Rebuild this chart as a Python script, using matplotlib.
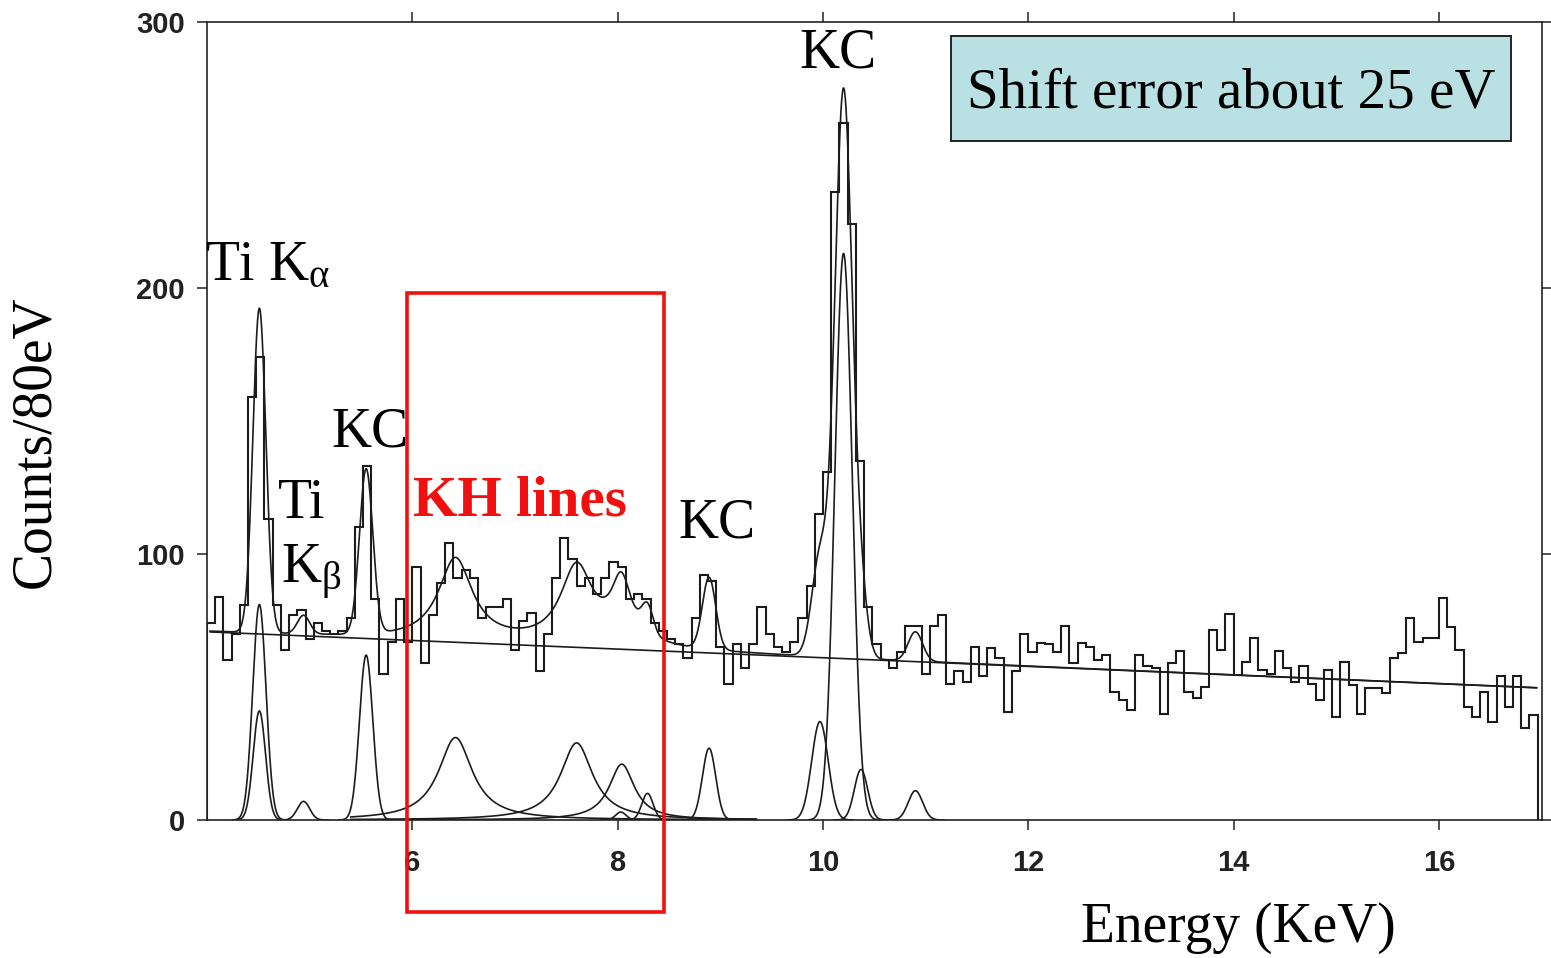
import numpy as np
import matplotlib
matplotlib.use("Agg")
import matplotlib.pyplot as plt
from matplotlib.patches import Rectangle

# ---------------- data ----------------
bin_start = 4.0          # keV
bin_width = 0.08         # keV (80 eV bins)
hist_counts = [
    74, 84, 60, 70, 81, 159, 174, 113, 81, 64,
    77, 79, 68, 74, 71, 70, 71, 76, 110, 133,
    83, 55, 67, 83, 67, 95, 59, 77, 89, 104,
    91, 94, 91, 76, 80, 80, 83, 64, 75, 78,
    56, 70, 91, 106, 98, 88, 91, 85, 91, 97,
    95, 83, 85, 83, 74, 71, 68, 66, 61, 76,
    92, 90, 65, 51, 66, 57, 66, 80, 70, 65,
    63, 67, 76, 88, 115, 131, 236, 262, 224, 135,
    80, 66, 60, 57, 63, 73, 73, 55, 73, 77,
    51, 56, 52, 65, 54, 64.5, 61, 40.6, 56, 70,
    63, 66.5, 66, 63, 73, 59, 66.5, 65, 60, 62,
    48, 45, 41.5, 62, 58, 57, 40, 59, 63.5, 48,
    46, 50, 71.4, 64, 77.4, 54.5, 59.4, 68.4, 56.4, 55,
    63.5, 57, 52, 58, 51, 45, 56.4, 38.7, 59.4, 50.8,
    40, 49.6, 49.6, 47.6, 61, 62.7, 76, 67, 68.4, 68.4,
    83.4, 72.4, 64, 42.6, 38.7, 48, 37, 54, 42.6, 54,
    34.6, 39.5,
]

# linear background of the fit
bg_energy = [4.03, 16.95]
bg_counts = [70.7, 49.7]

# gaussian components (centre keV, height counts, sigma keV)
gauss_centers = [4.51, 4.51, 4.94, 5.55, 8.03, 8.29, 8.89, 9.97, 10.20, 10.37, 10.90]
gauss_heights = [81, 41, 7, 62, 3, 10, 27, 37, 213, 19, 11]
gauss_sigmas = [0.065, 0.060, 0.060, 0.065, 0.05, 0.055, 0.065, 0.080, 0.085, 0.065, 0.070]

# lorentzian components (KH lines)
lorentz_centers = [6.42, 7.60, 8.04]
lorentz_heights = [31, 29, 21]
lorentz_gammas = [0.20, 0.19, 0.15]
lorentz_range = [5.40, 9.35]

x_ticks = [6, 8, 10, 12, 14, 16]
y_ticks = [0, 100, 200, 300]

# ---------------- style ----------------
plt.rcParams['mathtext.fontset'] = 'custom'
plt.rcParams['mathtext.rm'] = 'Liberation Serif'
plt.rcParams['mathtext.it'] = 'Liberation Serif'
plt.rcParams['mathtext.bf'] = 'Liberation Serif:bold'

W, H = 1551, 958
fig = plt.figure(figsize=(W / 100, H / 100), dpi=100)
ax = fig.add_axes([207 / W, 1 - 820 / H, (1541.7 - 207) / W, (820 - 22) / H])

line_col = '#1c1c1c'

edges = bin_start + bin_width * np.arange(len(hist_counts) + 1)
ax.stairs(hist_counts, edges, baseline=0, color=line_col, lw=1.5)


def gauss(x, c, h, s):
    return h * np.exp(-0.5 * ((x - c) / s) ** 2)


def lorentz(x, c, h, g):
    return h / (1 + ((x - c) / g) ** 2)


xs = np.linspace(bg_energy[0], bg_energy[1], 4000)
bg = np.interp(xs, bg_energy, bg_counts)
total = bg.copy()
for c, h, s in zip(gauss_centers, gauss_heights, gauss_sigmas):
    total += gauss(xs, c, h, s)
for c, h, g in zip(lorentz_centers, lorentz_heights, lorentz_gammas):
    total += lorentz(xs, c, h, g)

ax.plot(xs, bg, color=line_col, lw=1.2)
ax.plot(xs, total, color=line_col, lw=1.2)

for c, h, s in zip(gauss_centers, gauss_heights, gauss_sigmas):
    xx = np.linspace(c - 4 * s, c + 4 * s, 200)
    ax.plot(xx, gauss(xx, c, h, s), color=line_col, lw=1.2)
for c, h, g in zip(lorentz_centers, lorentz_heights, lorentz_gammas):
    xx = np.linspace(lorentz_range[0], lorentz_range[1], 800)
    ax.plot(xx, lorentz(xx, c, h, g), color=line_col, lw=1.2)

ax.set_xlim(4, 17)
ax.set_ylim(0, 300)
ax.set_xticks(x_ticks)
ax.set_yticks(y_ticks)
ax.tick_params(direction='out', length=7, width=1.1, color='#222222',
               top=True, right=True, labelsize=21, pad=9)
ax.tick_params(axis='x', pad=14)
for lab in ax.get_xticklabels() + ax.get_yticklabels():
    lab.set_family('Liberation Sans')
    lab.set_fontweight('bold')
    lab.set_color('#222222')
for sp in ax.spines.values():
    sp.set_linewidth(1.2)
    sp.set_color('#222222')

# red KH window
rect = Rectangle((5.948, -34.6), 8.451 - 5.948, 198.1 + 34.6, fill=False,
                 edgecolor='#f01010', lw=2.6, clip_on=False, zorder=5)
ax.add_patch(rect)


def ftext(px, py, s, **kw):
    fig.text(px / W, 1 - py / H, s, **kw)


serif = dict(family='Liberation Serif', fontsize=40, color='black')
ftext(838, 67, 'KC', ha='center', va='baseline', **serif)
ftext(205, 280, r'Ti K$_{\mathrm{α}}$', ha='left', va='baseline', **serif)
ftext(370, 446, 'KC', ha='center', va='baseline', **serif)
ftext(302, 518, 'Ti', ha='center', va='baseline', **serif)
ftext(281, 583, r'K$_{\mathrm{β}}$', ha='left', va='baseline', **serif)
ftext(717, 537, 'KC', ha='center', va='baseline', **serif)
ftext(413, 516, 'KH lines', ha='left', va='baseline', family='Liberation Serif',
      fontsize=41, fontweight='bold', color='#f01010')
ftext(1238, 942, 'Energy (KeV)', ha='center', va='baseline', **serif)
ftext(35, 442, 'Counts/80eV', ha='center', va='center', rotation=90, **serif)

# info box
box = Rectangle((951 / W, 1 - 141 / H), (1511 - 951) / W, (141 - 36) / H,
                transform=fig.transFigure, facecolor='#b9e0e3',
                edgecolor='#222222', lw=1.4, zorder=1)
fig.add_artist(box)
ftext(1231, 108, 'Shift error about 25 eV', ha='center', va='baseline', zorder=2,
      family='Liberation Serif', fontsize=41, color='black')

fig.savefig('out.png', dpi=100)
